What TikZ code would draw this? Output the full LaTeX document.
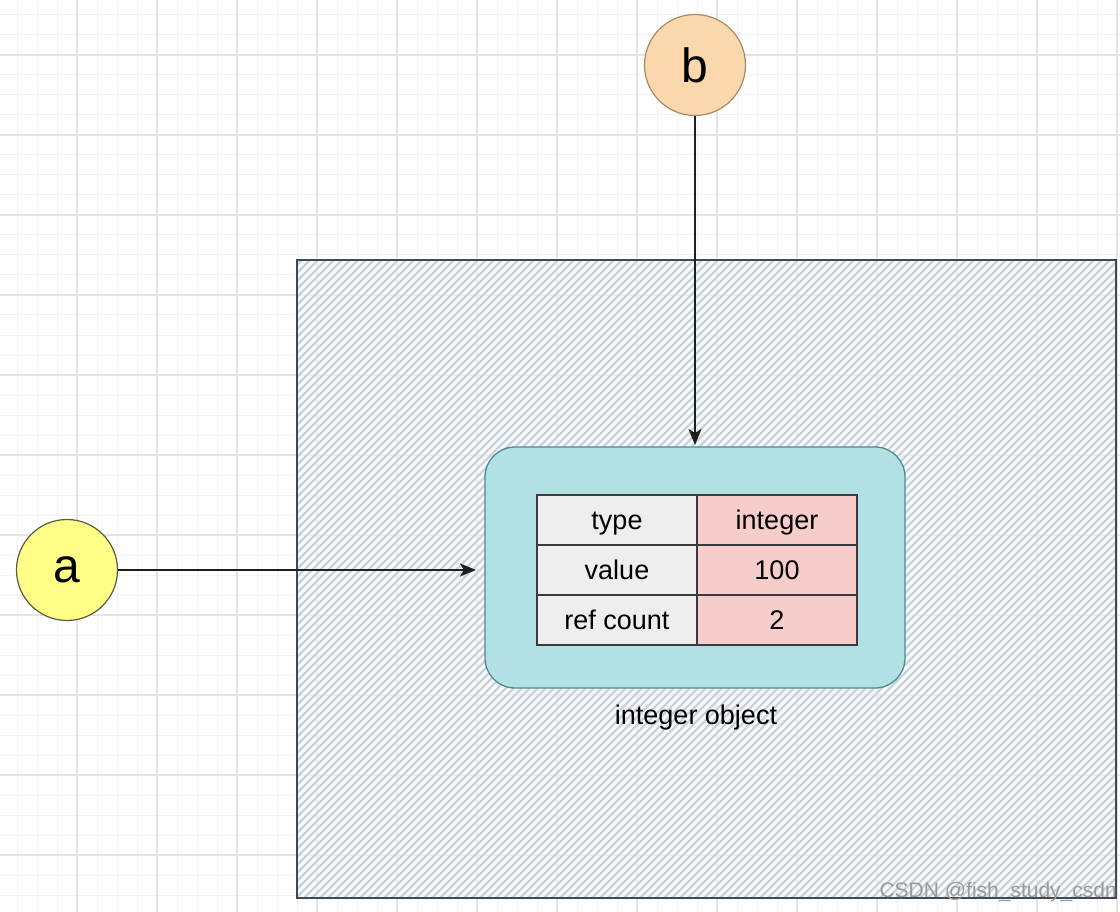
\documentclass[tikz,border=0pt]{standalone}
\usepackage{fontspec}
\setmainfont{Liberation Sans}
\usetikzlibrary{arrows.meta}
\definecolor{gridminor}{HTML}{F3F3F3}
\definecolor{gridmajor}{HTML}{E4E4E4}
\definecolor{hatchcol}{HTML}{CAD2DB}
\definecolor{hatchbg}{HTML}{F5F8FB}
\definecolor{framecol}{HTML}{3C4A56}
\definecolor{objfill}{HTML}{B2E1E5}
\definecolor{objdraw}{HTML}{4F8A90}
\definecolor{leftcell}{HTML}{EEEEEE}
\definecolor{rightcell}{HTML}{F6CDCB}
\definecolor{celldraw}{HTML}{3A3A3A}
\definecolor{bfill}{HTML}{FAD7AC}
\definecolor{bdraw}{HTML}{A88A62}
\definecolor{afill}{HTML}{FFFF88}
\definecolor{adraw}{HTML}{5A5A40}
\definecolor{arrowcol}{HTML}{1E1E1E}
\definecolor{markcol}{HTML}{9A9A9A}
\begin{document}
\begin{tikzpicture}[x=1pt,y=-1pt,
  minorline/.style={draw=gridminor,line width=1pt},
  majorline/.style={draw=gridmajor,line width=1.3pt},
  hatchline/.style={draw=hatchcol,line width=2.2pt},
  cellbox/.style={draw=celldraw,line width=1.2pt,minimum width=160pt,minimum height=50pt,inner sep=0pt,
    text height=21pt,text depth=3pt,font=\fontsize{27}{30}\selectfont},
  leftbox/.style={cellbox,fill=leftcell},
  rightbox/.style={cellbox,fill=rightcell},
  varcircle/.style={circle,minimum size=101pt,inner sep=0pt,line width=1.2pt,font=\fontsize{48}{52}\selectfont},
  pointer/.style={draw=arrowcol,line width=1.8pt,-{Stealth[length=16pt,width=13pt,inset=4pt]}}
]
\useasboundingbox (0,0) rectangle (1120,912);
\fill[white] (0,0) rectangle (1120,912);
% grid
\foreach \x in {17,37,...,1117} \draw[minorline] (\x,0) -- (\x,912);
\foreach \y in {15,35,...,895} \draw[minorline] (0,\y) -- (1120,\y);
\foreach \x in {77,157,...,1117} \draw[majorline] (\x,0) -- (\x,912);
\foreach \y in {55,135,...,895} \draw[majorline] (0,\y) -- (1120,\y);
% hatched frame
\fill[hatchbg,opacity=0.6] (297,260) rectangle (1116,898);
\begin{scope}
  \clip (297,260) rectangle (1116,898);
  \foreach \s in {-640,-632,...,1120} \draw[hatchline] (\s,898) -- ++(640,-640);
\end{scope}
\draw[framecol,line width=2pt] (297,260) rectangle (1116,898);
% integer object
\node[draw=objdraw,fill=objfill,line width=1.3pt,rounded corners=30pt,minimum width=420pt,minimum height=241pt] (obj) at (695,567.5) {};
\node[leftbox] (t1) at (617,520) {type};
\node[rightbox] (v1) at (777,520) {integer};
\node[leftbox] (t2) at (617,570) {value};
\node[rightbox] (v2) at (777,570) {100};
\node[leftbox] (t3) at (617,620) {ref count};
\node[rightbox] (v3) at (777,620) {2};
\node[font=\fontsize{27}{30}\selectfont] (lbl) at (696,718) {integer object};
% variables
\node[varcircle,draw=bdraw,fill=bfill] (b) at (695,65) {b};
\node[varcircle,draw=adraw,fill=afill] (a) at (67,570) {a};
\coordinate (bend) at (695,445);
\coordinate (aend) at (476,570);
\draw[pointer] (b.south) -- (bend);
\draw[pointer] (a.east) -- (aend);
% watermark
\node[anchor=base east,inner sep=0pt,text=markcol,font=\fontsize{21}{24}\selectfont] (wm) at (1117,897) {CSDN @fish\_study\_csdn};
\end{tikzpicture}
\end{document}
